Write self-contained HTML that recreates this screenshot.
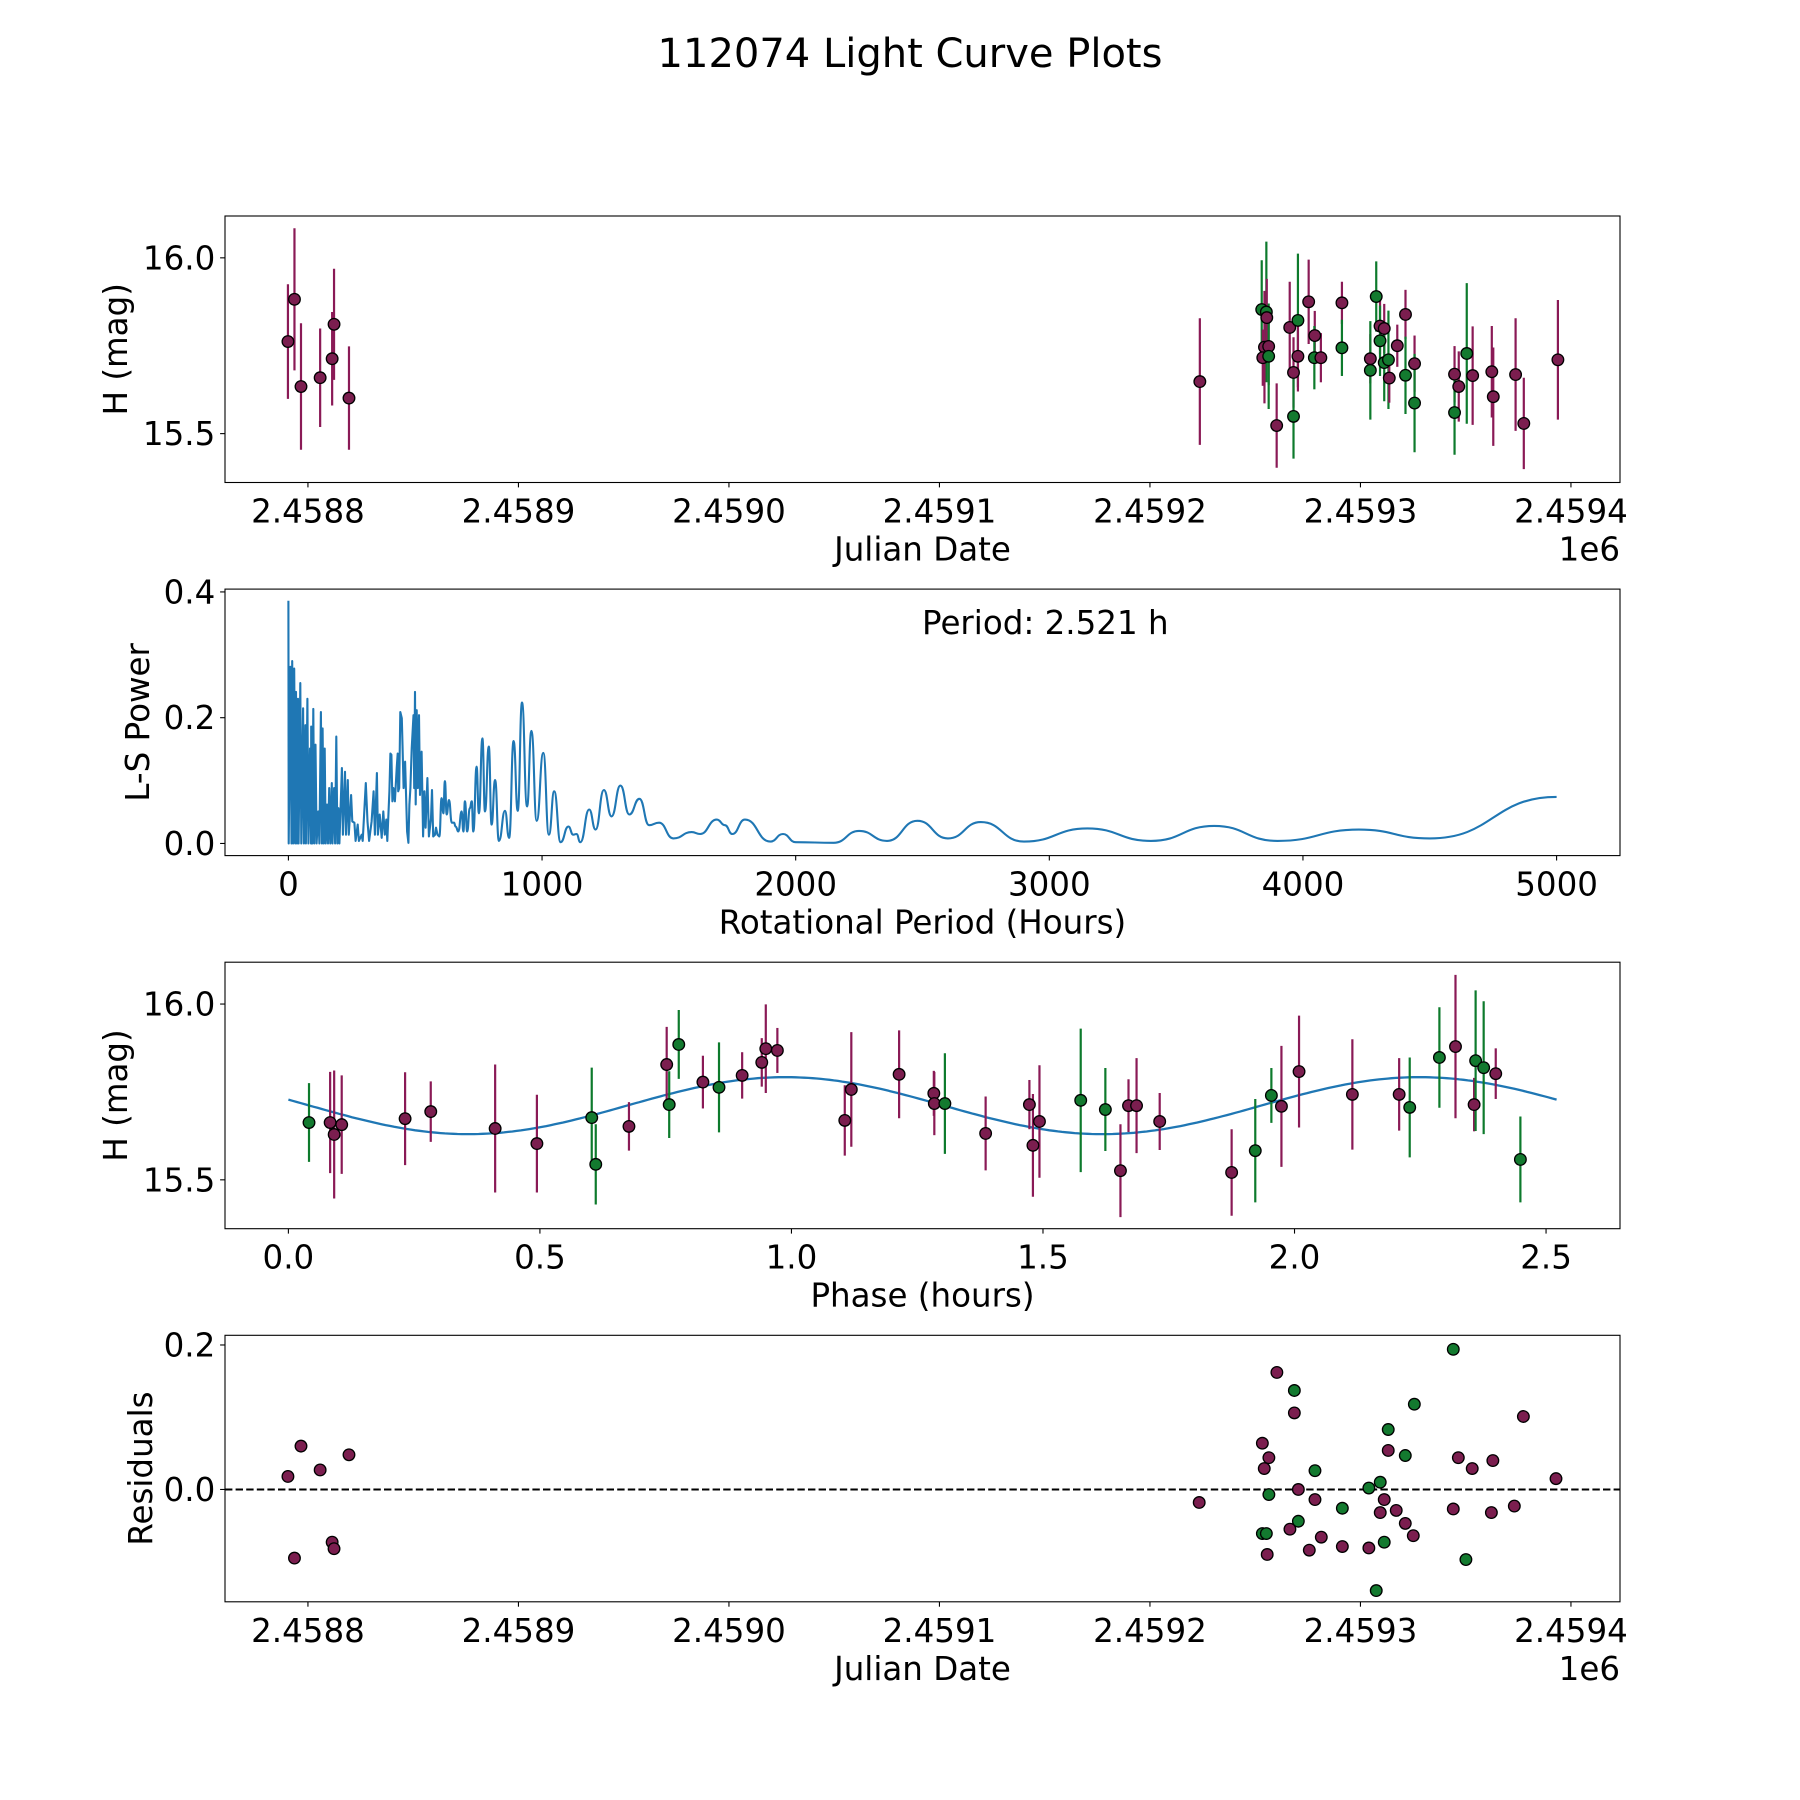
<!DOCTYPE html>
<html><head><meta charset="utf-8"><title>112074 Light Curve Plots</title>
<style>html,body{margin:0;padding:0;background:#fff}svg{display:block}text{font-family:"DejaVu Sans","Liberation Sans",sans-serif;fill:#000}</style>
</head><body>
<svg id="fig" width="1800" height="1800" viewBox="0 0 1800 1800" xmlns="http://www.w3.org/2000/svg">
<rect width="1800" height="1800" fill="#fff"/>
<text x="910" y="67" font-size="40" text-anchor="middle">112074 Light Curve Plots</text>
</svg>
<script>
// ---- Data: panel 1 (JD offsets from 2458800) ----
const lcOffset = [-9.5,-6.4,-3.3,5.8,11.5,12.4,19.5,
 423.7,453.1,455.3,455.5,454.4,456.4,453.6,456.4,466.4,470.3,470.3,468.2,468.2,460.2,475.4,478.3,478.1,481.2,491.2,491.2,504.7,504.7,507.5,509.3,511.3,509.3,511.3,513.3,513.7,517.5,521.4,521.4,525.7,525.7,544.7,544.7,546.7,550.5,553.3,562.4,563.1,573.7,577.6,593.8];
const lcMag = [15.762,15.882,15.634,15.659,15.713,15.811,15.601,
 15.648,15.853,15.846,15.830,15.746,15.748,15.716,15.720,15.802,15.822,15.720,15.674,15.549,15.523,15.875,15.779,15.716,15.716,15.872,15.744,15.713,15.680,15.890,15.806,15.799,15.764,15.702,15.710,15.658,15.750,15.839,15.666,15.699,15.587,15.669,15.560,15.634,15.728,15.665,15.676,15.605,15.668,15.529,15.710];
const lcErr = [0.163,0.202,0.18,0.14,0.133,0.158,0.147,
 0.18,0.14,0.2,0.11,0.16,0.11,0.08,0.15,0.13,0.19,0.1,0.1,0.12,0.12,0.12,0.07,0.09,0.07,0.06,0.08,0.07,0.14,0.1,0.08,0.07,0.1,0.11,0.14,0.07,0.06,0.07,0.11,0.08,0.14,0.08,0.12,0.1,0.2,0.14,0.13,0.14,0.16,0.13,0.17];
const lcBand = ["M","M","M","M","M","M","M",
 "M","G","G","M","M","M","M","G","M","G","M","M","G","M","M","M","G","M","M","G","M","G","G","M","M","G","G","G","M","M","M","G","M","G","M","G","M","G","M","M","M","M","M","M"];

// ---- Data: panel 2 periodogram (dense part) ----
const lsPeriodA = [0,1,8,12,15,19,23,27,30,34,38,40,47,51,58,61,67,69,75,79,85,89,90,94,98,102,107,111,118,122,128,132,135,139,143,147,152,156,161,165,171,174,180,184,189,193,197,201];
const lsPowerA  = [0.386,0,0.281,0,0.290,0,0.278,0,0.241,0,0.230,0,0.255,0,0.215,0,0.188,0,0.230,0,0.151,0,0.186,0,0.214,0,0.157,0,0.051,0,0.209,0,0.183,0,0.151,0,0.062,0,0.088,0,0.096,0,0.088,0,0.170,0,0.056,0];
// middle part
const lsPeriodB = [211,215,223,227,234,238,247,252,260,265,273,278,289,293,305,312,318,328,336,341,349,353,360,368,374,380,386,390,
 398,402,406,410,414,420,427,431,433,437,441,447,450,454,460,468,473,477,481,486,493,496,499,502,506,510,515,519,525,531,536,541,548,554,562,566,571,578,582,588,595];
const lsPowerB  = [0.120,0.014,0.114,0.014,0.101,0.014,0.077,0.035,0.033,0.004,0.030,0.004,0.014,0.004,0.096,0.035,0.004,0.035,0.083,0.014,0.112,0.014,0.046,0.009,0.051,0.014,0.038,0.004,
 0.083,0.143,0.141,0.067,0.088,0.067,0.120,0.143,0.083,0.088,0.209,0.199,0.157,0.088,0.130,0.019,0.001,0.062,0.088,0.151,0.204,0.088,0.241,0.062,0.212,0.088,0.204,0.077,0.146,0.011,0.083,0.025,0.104,0.011,0.040,0.085,0.011,0.014,0.025,0.014,0.011];
// smooth part
const lsPeriodC = [604,611,617,624,633,644,653,659,670,683,690,696,705,715,723,729,742,751,765,775,790,801,815,830,854,870,888,904,921,941,958,979,1005,1027,1048,1073,1104,1123,1136,1151,1186,1211,1244,1274,1309,1344,1384,1422,1461,1518,1590,1623,1689,1721,
 1750,1800,1900,1950,2000,2150,2250,2360,2480,2600,2730,2900,3150,3400,3650,3900,4220,4500,5000];
const lsPowerC  = [0.072,0.048,0.099,0.046,0.069,0.033,0.033,0.027,0.019,0.051,0.019,0.067,0.019,0.056,0.067,0.019,0.122,0.048,0.167,0.051,0.154,0.030,0.101,0.004,0.052,0.009,0.163,0.052,0.224,0.059,0.179,0.036,0.144,0.014,0.083,0.002,0.027,0.014,0.015,0.002,0.054,0.022,0.085,0.043,0.092,0.046,0.071,0.029,0.033,0.008,0.018,0.015,0.038,0.029,
 0.015,0.038,0.003,0.015,0.002,0.001,0.020,0.004,0.036,0.008,0.034,0.003,0.024,0.004,0.028,0.004,0.022,0.008,0.074];
const periodLabel = "Period: 2.521 h";

// ---- Data: panel 3 phase-folded ----
const phase = [0.041,0.083,0.091,0.106,0.232,0.283,0.411,0.494,0.603,0.611,0.677,0.752,0.757,0.776,0.824,0.856,0.902,0.941,0.949,0.972,1.106,1.119,1.214,1.283,1.284,1.305,1.386,1.473,1.480,1.493,1.575,1.624,1.654,1.670,1.686,1.732,1.875,1.922,1.954,1.974,2.009,2.115,2.208,2.229,2.288,2.320,2.357,2.360,2.376,2.400,2.449];
const phMag = [15.663,15.663,15.629,15.657,15.674,15.694,15.646,15.603,15.677,15.544,15.652,15.828,15.714,15.885,15.778,15.763,15.797,15.834,15.873,15.868,15.669,15.757,15.800,15.746,15.717,15.717,15.632,15.714,15.598,15.666,15.726,15.700,15.526,15.711,15.711,15.666,15.521,15.583,15.740,15.709,15.808,15.743,15.743,15.706,15.848,15.879,15.714,15.839,15.819,15.802,15.558];
const phErr = [0.112,0.144,0.182,0.140,0.132,0.086,0.182,0.139,0.142,0.114,0.069,0.107,0.095,0.098,0.075,0.128,0.066,0.069,0.126,0.064,0.100,0.163,0.125,0.064,0.09,0.143,0.105,0.07,0.146,0.160,0.204,0.118,0.132,0.075,0.135,0.081,0.123,0.147,0.078,0.172,0.159,0.157,0.103,0.142,0.143,0.204,0.076,0.2,0.189,0.072,0.122];
const phBand = ["G","M","M","M","M","M","M","M","G","G","M","M","G","G","M","G","M","M","M","M","M","M","M","M","M","G","M","M","M","M","G","G","M","M","M","M","M","G","G","M","M","M","M","G","G","M","M","G","G","M","G"];
const modelMean = 15.711, modelAmp = 0.081, modelPeak = 0.988, modelPeriod = 2.521;

// ---- Data: panel 4 residuals ----
const resOffset = [-9.5,-6.4,-3.3,5.8,11.5,12.4,19.5,423.4,453.4,456.5,454.3,456.5,453.4,455.3,455.7,460.3,468.6,468.6,470.5,470.5,466.5,475.7,478.4,478.4,481.4,491.4,491.4,504.0,509.4,504.0,507.5,511.3,509.4,517.0,511.3,513.2,513.2,521.3,521.3,525.1,525.6,544.1,544.1,546.5,550.1,553.1,562.2,562.9,573.1,577.4,592.9];
const resVal = [0.018,-0.095,0.060,0.027,-0.073,-0.082,0.048,-0.018,0.064,0.044,0.029,-0.007,-0.061,-0.061,-0.090,0.162,0.137,0.106,0.000,-0.044,-0.055,-0.084,0.026,-0.014,-0.066,-0.026,-0.079,0.002,0.010,-0.081,-0.140,-0.014,-0.032,-0.029,-0.073,0.083,0.054,0.047,-0.047,-0.064,0.118,0.194,-0.027,0.044,-0.097,0.029,-0.032,0.040,-0.023,0.101,0.015];
const resBand = ["M","M","M","M","M","M","M","M","M","M","M","G","G","G","M","M","G","M","M","G","M","M","G","M","M","G","M","G","G","M","G","M","M","M","G","G","M","G","M","M","G","G","M","M","G","M","M","M","M","M","M"];

const jdTicks = [0,100,200,300,400,500,600];
const jdTickLabels = ["2.4588","2.4589","2.4590","2.4591","2.4592","2.4593","2.4594"];
const magTicks = [15.5,16.0];
const magTickLabels = ["15.5","16.0"];
const perTicks = [0,1000,2000,3000,4000,5000];
const perTickLabels = ["0","1000","2000","3000","4000","5000"];
const powTicks = [0.0,0.2,0.4];
const powTickLabels = ["0.0","0.2","0.4"];
const phTicks = [0,0.5,1.0,1.5,2.0,2.5];
const phTickLabels = ["0.0","0.5","1.0","1.5","2.0","2.5"];
const resTicks = [0.0,0.2];
const resTickLabels = ["0.0","0.2"];

const NS = "http://www.w3.org/2000/svg";
const svg = document.getElementById("fig");
const FS = 32.5;
const COL = {M:{bar:"#8a1a56",fill:"#7b1e4f"},G:{bar:"#0d7a2c",fill:"#137a2f"}};
function mk(tag, attrs, parent){const e=document.createElementNS(NS,tag);for(const k in attrs)e.setAttribute(k,attrs[k]);(parent||svg).appendChild(e);return e;}
function scale(d0,d1,r0,r1){return v=>r0+(v-d0)*(r1-r0)/(d1-d0);}

const L=225,R=1620,H=266.5,TOPS=[216,589.1,962.2,1335.3];
function axes(i,name,xs,ys,xt,xtl,yt,ytl,xlabel,ylabel,ylabelX,offsetText){
  const g=mk("g",{});
  
  
  const t=TOPS[i],b=t+H;
  xt.forEach((v,k)=>{const x=xs(v);
    mk("line",{x1:x,x2:x,y1:b,y2:b+4.9,stroke:"#000","stroke-width":1.1},g);
    const tx=mk("text",{x:x,y:b+40,"font-size":FS,"text-anchor":"middle"},g);tx.textContent=xtl[k];
    
    
  });
  yt.forEach((v,k)=>{const y=ys(v);
    mk("line",{x1:L-4.9,x2:L,y1:y,y2:y,stroke:"#000","stroke-width":1.1},g);
    const tx=mk("text",{x:L-9.7,y:y+11.5,"font-size":FS,"text-anchor":"end"},g);tx.textContent=ytl[k];
    
    
  });
  const xl=mk("text",{x:(L+R)/2,y:b+78,"font-size":FS,"text-anchor":"middle"},g);xl.textContent=xlabel;
  
  
  const yl=mk("text",{x:ylabelX,y:t+H/2,"font-size":FS,"text-anchor":"middle",transform:`rotate(-90 ${ylabelX} ${t+H/2})`},g);yl.textContent=ylabel;
  
  
  if(offsetText){const o=mk("text",{x:R,y:b+78,"font-size":FS,"text-anchor":"end"},g);o.textContent=offsetText;
    
    }
  return g;
}
function frame(i){const f=mk("rect",{x:L,y:TOPS[i],width:R-L,height:H,fill:"none",stroke:"#000","stroke-width":1.1});
  
  }
function clip(i){const cp=mk("clipPath",{id:"c"+i});mk("rect",{x:L,y:TOPS[i],width:R-L,height:H},cp);return "url(#c"+i+")";}

// Panel 1
{const xs=scale(-39.4,623.3,L,R), ys=scale(15.361,16.119,TOPS[0]+H,TOPS[0]);
 axes(0,"light-curve-panel",xs,ys,jdTicks,jdTickLabels,magTicks,magTickLabels,"Julian Date","H (mag)",127,"1e6");
 const g=mk("g",{"clip-path":clip(0)});
 lcOffset.forEach((v,k)=>{const c=COL[lcBand[k]];
   const eb=mk("line",{x1:xs(v),x2:xs(v),y1:ys(lcMag[k]-lcErr[k]),y2:ys(lcMag[k]+lcErr[k]),stroke:c.bar,"stroke-width":2.2},g);
   
   });
 lcOffset.forEach((v,k)=>{const c=COL[lcBand[k]];
   const p=mk("circle",{cx:xs(v),cy:ys(lcMag[k]),r:5.8,fill:c.fill,stroke:"#000","stroke-width":1.3},g);
   
   });
 frame(0);}

// Panel 2
{const xs=scale(-250,5250,L,R), ys=scale(-0.0193,0.4045,TOPS[1]+H,TOPS[1]);
 axes(1,"periodogram-panel",xs,ys,perTicks,perTickLabels,powTicks,powTickLabels,"Rotational Period (Hours)","L-S Power",149,null);
 const per=lsPeriodA.concat(lsPeriodB,lsPeriodC), pow=lsPowerA.concat(lsPowerB,lsPowerC);
 const pts=per.map((v,k)=>[xs(v),ys(pow[k])]);
 let d="M"+pts[0][0].toFixed(1)+","+pts[0][1].toFixed(1);
 for(let k=1;k<pts.length;k++){
   const p0=pts[k-1],p1=pts[k];
   if(per[k]<600){d+="L"+p1[0].toFixed(1)+","+p1[1].toFixed(1);}
   else{const dx=(p1[0]-p0[0])/2;d+=`C${(p0[0]+dx).toFixed(1)},${p0[1].toFixed(1)} ${(p1[0]-dx).toFixed(1)},${p1[1].toFixed(1)} ${p1[0].toFixed(1)},${p1[1].toFixed(1)}`;}
 }
 const ln=mk("path",{d:d,fill:"none",stroke:"#1f77b4","stroke-width":2.1,"stroke-linejoin":"round","clip-path":clip(1)});
 
 
 const pl=mk("text",{x:922,y:634,"font-size":FS});pl.textContent=periodLabel;
 
 
 frame(1);}

// Panel 3
{const xs=scale(-0.126,2.647,L,R), ys=scale(15.361,16.119,TOPS[2]+H,TOPS[2]);
 axes(2,"phase-panel",xs,ys,phTicks,phTickLabels,magTicks,magTickLabels,"Phase (hours)","H (mag)",127,null);
 const g=mk("g",{"clip-path":clip(2)});
 let d="";
 for(let k=0;k<=300;k++){const p=modelPeriod*k/300;const m=modelMean+modelAmp*Math.cos(2*Math.PI*(p-modelPeak)/(modelPeriod/2));
   d+=(k?"L":"M")+xs(p).toFixed(1)+","+ys(m).toFixed(1);}
 const md=mk("path",{d:d,fill:"none",stroke:"#1f77b4","stroke-width":2.3},g);
 
 
 phase.forEach((v,k)=>{const c=COL[phBand[k]];
   const eb=mk("line",{x1:xs(v),x2:xs(v),y1:ys(phMag[k]-phErr[k]),y2:ys(phMag[k]+phErr[k]),stroke:c.bar,"stroke-width":2.2},g);
   
   });
 phase.forEach((v,k)=>{const c=COL[phBand[k]];
   const p=mk("circle",{cx:xs(v),cy:ys(phMag[k]),r:5.8,fill:c.fill,stroke:"#000","stroke-width":1.3},g);
   
   });
 frame(2);}

// Panel 4
{const xs=scale(-39.4,623.3,L,R), ys=scale(-0.1555,0.2134,TOPS[3]+H,TOPS[3]);
 axes(3,"residuals-panel",xs,ys,jdTicks,jdTickLabels,resTicks,resTickLabels,"Julian Date","Residuals",152,"1e6");
 const g=mk("g",{"clip-path":clip(3)});
 const zl=mk("line",{x1:L,x2:R,y1:ys(0),y2:ys(0),stroke:"#000","stroke-width":2,"stroke-dasharray":"7.4,3.2"},g);
 
 
 resOffset.forEach((v,k)=>{const c=COL[resBand[k]];
   const p=mk("circle",{cx:xs(v),cy:ys(resVal[k]),r:5.8,fill:c.fill,stroke:"#000","stroke-width":1.3},g);
   
   });
 frame(3);}
</script>
</body></html>
